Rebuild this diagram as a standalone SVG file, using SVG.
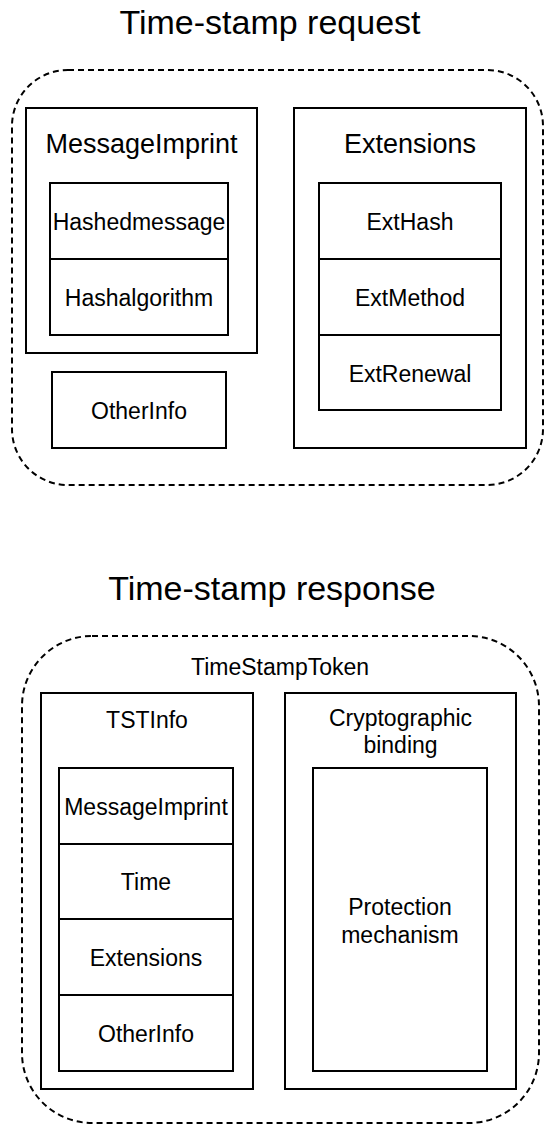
<svg xmlns="http://www.w3.org/2000/svg" width="544" height="1125" viewBox="0 0 544 1125">
  <style>
    .box { fill: #ffffff; stroke: #000000; stroke-width: 2; }
    .cell { fill: none; stroke: #000000; stroke-width: 2; }
    .group { fill: none; stroke: #000000; stroke-width: 2; stroke-dasharray: 6 4; }
    text { font-family: "Liberation Sans", Arial, Helvetica, sans-serif; fill: #000000; text-anchor: middle; }
    .h1 { font-size: 34px; }
    .h2 { font-size: 27px; }
    .t { font-size: 23px; }
  </style>
  <rect width="544" height="1125" fill="#ffffff"/>

  <!-- Request -->
  <g id="request">
    <text class="h1" x="270" y="34">Time-stamp request</text>
    <rect class="group" x="12" y="70" width="531" height="415" rx="56" ry="56"/>
  </g>

  <g id="req-messageimprint">
    <rect class="box" x="26" y="108" width="231" height="245"/>
    <text class="h2" x="141.5" y="153">MessageImprint</text>
    <rect class="cell" x="50" y="183" width="178" height="152"/>
    <line class="cell" x1="50" y1="259" x2="228" y2="259"/>
    <text class="t" x="139" y="230">Hashedmessage</text>
    <text class="t" x="139" y="306">Hashalgorithm</text>
  </g>

  <g id="req-otherinfo">
    <rect class="box" x="52" y="372" width="174" height="76"/>
    <text class="t" x="139" y="419">OtherInfo</text>
  </g>

  <g id="req-extensions">
    <rect class="box" x="294" y="108" width="232" height="340"/>
    <text class="h2" x="410" y="153">Extensions</text>
    <rect class="cell" x="319" y="183" width="182" height="227"/>
    <line class="cell" x1="319" y1="259" x2="501" y2="259"/>
    <line class="cell" x1="319" y1="335" x2="501" y2="335"/>
    <text class="t" x="410" y="230">ExtHash</text>
    <text class="t" x="410" y="306">ExtMethod</text>
    <text class="t" x="410" y="382">ExtRenewal</text>
  </g>

  <!-- Response -->
  <g id="response">
    <text class="h1" x="272" y="600">Time-stamp response</text>
    <rect class="group" x="22" y="636" width="517" height="487" rx="70" ry="70"/>
    <text class="t" x="280" y="675">TimeStampToken</text>
  </g>

  <g id="tstinfo">
    <rect class="box" x="41" y="693" width="212" height="396"/>
    <text class="t" x="147" y="728">TSTInfo</text>
    <rect class="cell" x="59" y="768" width="174" height="303"/>
    <line class="cell" x1="59" y1="844" x2="233" y2="844"/>
    <line class="cell" x1="59" y1="919" x2="233" y2="919"/>
    <line class="cell" x1="59" y1="995" x2="233" y2="995"/>
    <text class="t" x="146" y="815">MessageImprint</text>
    <text class="t" x="146" y="890">Time</text>
    <text class="t" x="146" y="966">Extensions</text>
    <text class="t" x="146" y="1042">OtherInfo</text>
  </g>

  <g id="crypto-binding">
    <rect class="box" x="285" y="693" width="231" height="396"/>
    <text class="t" x="400.5" y="726">Cryptographic</text>
    <text class="t" x="400.5" y="753">binding</text>
    <rect class="cell" x="313" y="768" width="174" height="303"/>
    <text class="t" x="400" y="915">Protection</text>
    <text class="t" x="400" y="943">mechanism</text>
  </g>

  <!-- no connectors in this diagram -->
  <g id="connectors"/>
</svg>
